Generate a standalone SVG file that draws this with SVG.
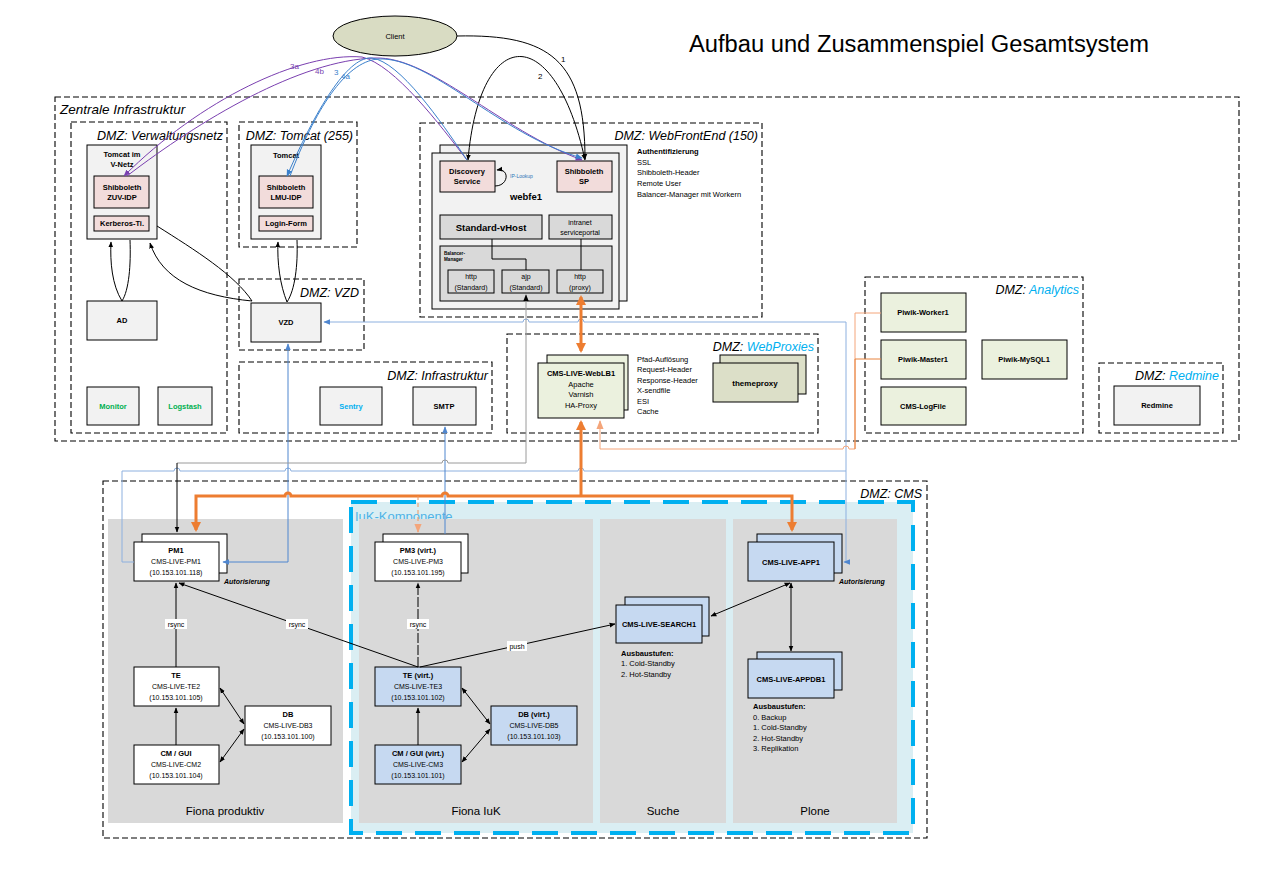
<svg xmlns="http://www.w3.org/2000/svg" width="1263" height="872" viewBox="0 0 1263 872">
<style>
text{font-family:"Liberation Sans",Arial,sans-serif;fill:#000}
.dmz{fill:none;stroke:#000;stroke-width:1.1;stroke-dasharray:6 3}
.dl{font-size:12.5px;font-style:italic;text-anchor:end}
.box{stroke:#000;stroke-width:1}
.g{fill:#f2f2f2}.pk{fill:#f2dcdb}.dg{fill:#d9d9d9}.gr{fill:#ebf1de}.ol{fill:#dcdfc8}.bl{fill:#c6d9f1}.wh{fill:#fff}
.t{font-size:7.5px;font-weight:bold;text-anchor:middle}
.r{font-size:7px;text-anchor:middle;fill:#000}
.s{font-size:7.5px}
.sb{font-size:7.5px;font-weight:bold}
.c{fill:none;stroke-width:1}
.k{stroke:#000}.bu{stroke:#4f86cf}.lb{stroke:#8db0df}.pu{stroke:#7a3fb0}.bc{stroke:#3a80cc}
.or{stroke:#ed7d31;stroke-width:3}
.lbl{font-size:7px;text-anchor:middle}
.pan{font-size:11.5px;text-anchor:middle}
</style>
<defs>
<marker id="ak" viewBox="0 0 10 10" refX="9" refY="5" markerWidth="6" markerHeight="6" markerUnits="userSpaceOnUse" orient="auto-start-reverse"><path d="M0,1L10,5L0,9z" fill="#000"/></marker>
<marker id="ab" viewBox="0 0 10 10" refX="9" refY="5" markerWidth="7" markerHeight="7" markerUnits="userSpaceOnUse" orient="auto-start-reverse"><path d="M0,1L10,5L0,9z" fill="#4f86cf"/></marker>
<marker id="abc" viewBox="0 0 10 10" refX="9" refY="5" markerWidth="7" markerHeight="7" markerUnits="userSpaceOnUse" orient="auto-start-reverse"><path d="M0,1L10,5L0,9z" fill="#3a80cc"/></marker>
<marker id="ap" viewBox="0 0 10 10" refX="9" refY="5" markerWidth="7" markerHeight="7" markerUnits="userSpaceOnUse" orient="auto-start-reverse"><path d="M0,1L10,5L0,9z" fill="#7a3fb0"/></marker>
<marker id="ao" viewBox="0 0 10 10" refX="8" refY="5" markerWidth="10" markerHeight="10" markerUnits="userSpaceOnUse" orient="auto-start-reverse"><path d="M0,0L10,5L0,10z" fill="#ed7d31"/></marker>
<marker id="as" viewBox="0 0 10 10" refX="9" refY="5" markerWidth="9" markerHeight="9" markerUnits="userSpaceOnUse" orient="auto-start-reverse"><path d="M0,1L10,5L0,9z" fill="#f4a57a"/></marker>
<marker id="ag" viewBox="0 0 10 10" refX="9" refY="5" markerWidth="7" markerHeight="7" markerUnits="userSpaceOnUse" orient="auto-start-reverse"><path d="M0,1L10,5L0,9z" fill="#000"/></marker>
</defs>
<rect width="1263" height="872" fill="#fff"/>
<text x="689" y="52" font-size="23" textLength="460" lengthAdjust="spacingAndGlyphs">Aufbau und Zusammenspiel Gesamtsystem</text>

<!-- zones -->
<g id="zentrale">
<rect class="dmz" x="55" y="97" width="1184" height="344"/>
<text x="60" y="114" font-size="13.5" font-style="italic">Zentrale Infrastruktur</text>
</g>
<g id="dmz-verwaltung"><rect class="dmz" x="71" y="122" width="156" height="311"/><text class="dl" x="223" y="140">DMZ: Verwaltungsnetz</text></g>
<g id="dmz-tomcat"><rect class="dmz" x="239" y="122" width="118" height="125"/><text class="dl" x="353" y="140">DMZ: Tomcat (255)</text></g>
<g id="dmz-webfrontend"><rect class="dmz" x="420" y="123" width="342" height="194"/><text class="dl" x="758" y="140">DMZ: WebFrontEnd (150)</text></g>
<g id="dmz-vzd"><rect class="dmz" x="239" y="279" width="125" height="71"/><text class="dl" x="359" y="297">DMZ: VZD</text></g>
<g id="dmz-infra"><rect class="dmz" x="239" y="362" width="253" height="71"/><text class="dl" x="488" y="380">DMZ: Infrastruktur</text></g>
<g id="dmz-webproxies"><rect class="dmz" x="507" y="334" width="311" height="99"/><text class="dl" x="814" y="351">DMZ: <tspan fill="#00b0f0">WebProxies</tspan></text></g>
<g id="dmz-analytics"><rect class="dmz" x="865" y="277" width="218" height="156"/><text class="dl" x="1079" y="294">DMZ: <tspan fill="#00b0f0">Analytics</tspan></text></g>
<g id="dmz-redmine"><rect class="dmz" x="1099" y="363" width="124" height="70"/><text class="dl" x="1219" y="380">DMZ: <tspan fill="#00b0f0">Redmine</tspan></text></g>
<g id="dmz-cms"><rect class="dmz" x="103" y="481" width="824" height="357"/><text class="dl" x="922" y="498">DMZ: CMS</text></g>

<!-- CMS panels -->
<g id="panel-fiona-produktiv"><rect x="108" y="519" width="235" height="304" fill="#d9d9d9"/><text class="pan" x="225" y="815">Fiona produktiv</text></g>
<g id="iuk">
<rect x="351" y="502" width="562" height="331" fill="#daeef3" stroke="#00b0f0" stroke-width="4" stroke-dasharray="26 13"/>
<text x="355" y="521" font-size="13" style="fill:#4fb3e6">IuK-Komponente</text>
</g>
<g id="panel-fiona-iuk"><rect x="359" y="519" width="234" height="304" fill="#d9d9d9"/><text class="pan" x="476" y="815">Fiona IuK</text></g>
<g id="panel-suche"><rect x="600" y="519" width="126" height="304" fill="#d9d9d9"/><text class="pan" x="663" y="815">Suche</text></g>
<g id="panel-plone"><rect x="733" y="519" width="164" height="304" fill="#d9d9d9"/><text class="pan" x="815" y="815">Plone</text></g>

<!-- nodes -->
<g id="client"><ellipse cx="395" cy="36" rx="62" ry="20" fill="#d9dcc3" stroke="#000"/><text x="395" y="39" font-size="7.5" text-anchor="middle">Client</text></g>

<g id="tomcat-vnetz">
<rect class="box g" x="87" y="145" width="70" height="94"/>
<text class="t" x="122" y="157">Tomcat im</text><text class="t" x="122" y="167">V-Netz</text>
<rect class="box pk" x="94" y="176" width="55" height="32"/>
<text class="t" x="122" y="190">Shibboleth</text><text class="t" x="122" y="200">ZUV-IDP</text>
<rect class="box pk" x="94" y="216" width="55" height="15"/>
<text class="t" x="122" y="226">Kerberos-Ti.</text>
</g>
<g id="tomcat-255">
<rect class="box g" x="251" y="145" width="70" height="94"/>
<text class="t" x="286" y="158">Tomcat</text>
<rect class="box pk" x="259" y="176" width="54" height="32"/>
<text class="t" x="286" y="190">Shibboleth</text><text class="t" x="286" y="200">LMU-IDP</text>
<rect class="box pk" x="259" y="216" width="54" height="15"/>
<text class="t" x="286" y="226">Login-Form</text>
</g>
<g id="ad"><rect class="box g" x="87" y="301" width="70" height="39"/><text class="t" x="122" y="323">AD</text></g>
<g id="vzd"><rect class="box g" x="251" y="303" width="70" height="39"/><text class="t" x="286" y="325">VZD</text></g>
<g id="monitor"><rect class="box g" x="87" y="387" width="52" height="38"/><text class="t" x="113" y="409" style="fill:#00b050">Monitor</text></g>
<g id="logstash"><rect class="box g" x="158" y="387" width="54" height="38"/><text class="t" x="185" y="409" style="fill:#00b050">Logstash</text></g>
<g id="sentry"><rect class="box g" x="320" y="387" width="62" height="38"/><text class="t" x="351" y="409" style="fill:#00b0f0">Sentry</text></g>
<g id="smtp"><rect class="box g" x="413" y="387" width="63" height="38"/><text class="t" x="444" y="409">SMTP</text></g>

<g id="webfe1">
<rect class="box g" x="440" y="145" width="187" height="156"/>
<rect class="box g" x="432" y="153" width="187" height="156"/>
<rect class="box pk" x="440" y="161" width="55" height="31"/>
<text class="t" x="467" y="174">Discovery</text><text class="t" x="467" y="184">Service</text>
<rect class="box pk" x="557" y="161" width="55" height="31"/>
<text class="t" x="584" y="174">Shibboleth</text><text class="t" x="584" y="184">SP</text>
<text x="510" y="178" font-size="5" style="fill:#2e75b6">IP-Lookup</text>
<text x="526" y="200" font-size="9.5" font-weight="bold" text-anchor="middle">webfe1</text>
<rect class="box dg" x="440" y="215" width="102" height="24"/>
<text x="491" y="231" font-size="9.5" font-weight="bold" text-anchor="middle">Standard-vHost</text>
<rect class="box dg" x="549" y="215" width="63" height="24"/>
<text class="r" x="580" y="225">intranet</text><text class="r" x="580" y="235">serviceportal</text>
<rect class="box dg" x="440" y="246" width="172" height="55"/>
<text x="444" y="255" font-size="4.6" font-weight="bold">Balancer-</text><text x="444" y="261" font-size="4.6" font-weight="bold">Manager</text>
<rect class="box dg" x="448" y="270" width="46" height="23"/>
<text class="r" x="471" y="279">http</text><text class="r" x="471" y="290">(Standard)</text>
<rect class="box dg" x="502" y="270" width="47" height="23"/>
<text class="r" x="526" y="279">ajp</text><text class="r" x="526" y="290">(Standard)</text>
<rect class="box dg" x="557" y="270" width="46" height="23"/>
<text class="r" x="580" y="279">http</text><text class="r" x="580" y="290">(proxy)</text>
<path d="M492,239V259H526V270M581,239V270" fill="none" stroke="#000"/>
</g>
<g id="webfe-notes">
<text class="sb" x="637" y="154">Authentifizierung</text>
<text class="s" x="637" y="165">SSL</text>
<text class="s" x="637" y="175">Shibboleth-Header</text>
<text class="s" x="637" y="186">Remote User</text>
<text class="s" x="637" y="197">Balancer-Manager mit Workern</text>
</g>

<g id="weblb1">
<rect class="box gr" x="547" y="355" width="81" height="55"/>
<rect class="box gr" x="538" y="363" width="86" height="55"/>
<text class="t" x="581" y="376">CMS-LIVE-WebLB1</text>
<text class="r" x="581" y="387" style="font-size:7.5px">Apache</text>
<text class="r" x="581" y="397" style="font-size:7.5px">Varnish</text>
<text class="r" x="581" y="408" style="font-size:7.5px">HA-Proxy</text>
</g>
<g id="weblb-notes">
<text class="s" x="637" y="362">Pfad-Auflösung</text>
<text class="s" x="637" y="372">Request-Header</text>
<text class="s" x="637" y="383">Response-Header</text>
<text class="s" x="637" y="393">X-sendfile</text>
<text class="s" x="637" y="404">ESI</text>
<text class="s" x="637" y="414">Cache</text>
</g>
<g id="themeproxy">
<rect class="box ol" x="720" y="355" width="86" height="39"/>
<rect class="box ol" x="713" y="363" width="85" height="39"/>
<text class="t" x="755" y="386" style="font-size:8px">themeproxy</text>
</g>
<g id="piwik-worker1"><rect class="box gr" x="881" y="293" width="85" height="39"/><text class="t" x="923" y="315">Piwik-Worker1</text></g>
<g id="piwik-master1"><rect class="box gr" x="881" y="340" width="85" height="39"/><text class="t" x="923" y="362">Piwik-Master1</text></g>
<g id="cms-logfile"><rect class="box gr" x="881" y="387" width="85" height="38"/><text class="t" x="923" y="409">CMS-LogFile</text></g>
<g id="piwik-mysql1"><rect class="box gr" x="982" y="340" width="85" height="39"/><text class="t" x="1024" y="362">Piwik-MySQL1</text></g>
<g id="redmine"><rect class="box g" x="1114" y="386" width="86" height="39"/><text class="t" x="1157" y="408">Redmine</text></g>

<g id="pm1">
<rect class="box wh" x="142" y="534" width="85" height="39"/>
<rect class="box wh" x="134" y="542" width="85" height="39"/>
<text class="t" x="176" y="553">PM1</text><text class="r" x="176" y="564">CMS-LIVE-PM1</text><text class="r" x="176" y="575">(10.153.101.118)</text>
<text x="224" y="584" font-size="7" font-weight="bold" font-style="italic">Autorisierung</text>
</g>
<g id="te2"><rect class="box wh" x="134" y="667" width="85" height="39"/>
<text class="t" x="176" y="678">TE</text><text class="r" x="176" y="689">CMS-LIVE-TE2</text><text class="r" x="176" y="700">(10.153.101.105)</text></g>
<g id="db3"><rect class="box wh" x="245" y="706" width="86" height="39"/>
<text class="t" x="288" y="717">DB</text><text class="r" x="288" y="728">CMS-LIVE-DB3</text><text class="r" x="288" y="739">(10.153.101.100)</text></g>
<g id="cm2"><rect class="box wh" x="134" y="745" width="85" height="39"/>
<text class="t" x="176" y="756">CM / GUI</text><text class="r" x="176" y="767">CMS-LIVE-CM2</text><text class="r" x="176" y="778">(10.153.101.104)</text></g>

<g id="pm3">
<rect class="box wh" x="383" y="534" width="85" height="39"/>
<rect class="box wh" x="375" y="542" width="86" height="39"/>
<text class="t" x="418" y="553">PM3 (virt.)</text><text class="r" x="418" y="564">CMS-LIVE-PM3</text><text class="r" x="418" y="575">(10.153.101.195)</text>
</g>
<g id="te3"><rect class="box bl" x="375" y="667" width="86" height="39"/>
<text class="t" x="418" y="678">TE (virt.)</text><text class="r" x="418" y="689">CMS-LIVE-TE3</text><text class="r" x="418" y="700">(10.153.101.102)</text></g>
<g id="db5"><rect class="box bl" x="491" y="706" width="86" height="39"/>
<text class="t" x="534" y="717">DB (virt.)</text><text class="r" x="534" y="728">CMS-LIVE-DB5</text><text class="r" x="534" y="739">(10.153.101.103)</text></g>
<g id="cm3"><rect class="box bl" x="375" y="745" width="86" height="39"/>
<text class="t" x="418" y="756">CM / GUI (virt.)</text><text class="r" x="418" y="767">CMS-LIVE-CM3</text><text class="r" x="418" y="778">(10.153.101.101)</text></g>

<g id="search1">
<rect class="box bl" x="625" y="597" width="84" height="39"/>
<rect class="box bl" x="616" y="605" width="86" height="38"/>
<text class="t" x="659" y="627">CMS-LIVE-SEARCH1</text>
<text class="sb" x="621" y="656">Ausbaustufen:</text>
<text class="s" x="621" y="666">1. Cold-Standby</text>
<text class="s" x="621" y="677">2. Hot-Standby</text>
</g>
<g id="app1">
<rect class="box bl" x="757" y="534" width="85" height="39"/>
<rect class="box bl" x="748" y="542" width="86" height="39"/>
<text class="t" x="791" y="565">CMS-LIVE-APP1</text>
<text x="839" y="584" font-size="7" font-weight="bold" font-style="italic">Autorisierung</text>
</g>
<g id="appdb1">
<rect class="box bl" x="757" y="652" width="85" height="38"/>
<rect class="box bl" x="748" y="659" width="86" height="39"/>
<text class="t" x="791" y="682">CMS-LIVE-APPDB1</text>
<text class="sb" x="753" y="709">Ausbaustufen:</text>
<text class="s" x="753" y="720">0. Backup</text>
<text class="s" x="753" y="730">1. Cold-Standby</text>
<text class="s" x="753" y="741">2. Hot-Standby</text>
<text class="s" x="753" y="751">3. Replikation</text>
</g>

<!-- connectors -->
<g id="connectors">
<path class="c k" d="M457,36C550,34 585,60 585,159" marker-end="url(#ak)"/>
<path class="c k" d="M468,160C480,22 555,22 585,160" marker-start="url(#ak)" marker-end="url(#ak)"/>
<path class="c k" d="M495,186C509,186 510,168 497,170" marker-end="url(#ak)"/>
<path class="c pu" d="M467,160C440,125 395,65 362,57C300,52 200,100 124,176" marker-end="url(#ap)"/>
<path class="c pu" d="M127,176C200,120 300,60 375,58C430,56 500,130 582,160" marker-end="url(#ap)"/>
<path class="c bc" d="M467,160C440,120 400,62 372,58C350,56 320,100 287,176" marker-end="url(#abc)"/>
<path class="c bc" d="M290,176C315,110 345,62 378,59C430,56 500,135 582,158" marker-end="url(#abc)"/>
<text x="561" y="62" font-size="8">1</text>
<text x="538" y="79" font-size="8">2</text>
<text x="290" y="69" font-size="8" style="fill:#7a3fb0">3a</text>
<text x="315" y="74" font-size="8" style="fill:#7a3fb0">4b</text>
<text x="334" y="75" font-size="8" style="fill:#3a80cc">3</text>
<text x="341" y="79" font-size="8" style="fill:#3a80cc">4a</text>

<path class="c k" d="M122,301C112,285 110,262 111,242" marker-end="url(#ak)"/>
<path class="c k" d="M130,240C131,265 129,290 122,301"/>
<path class="c k" d="M287,302C280,285 277,262 278,242" marker-end="url(#ak)"/>
<path class="c k" d="M297,240C298,265 295,290 287,302"/>
<path class="c k" d="M157,226C195,250 235,275 252,301"/>
<path class="c k" d="M252,301C200,296 162,280 150,243" marker-end="url(#ak)"/>

<path class="c lb" d="M324,322H523A3,3 0 0 1 529,322H578A3,3 0 0 1 584,322H846V562H844" stroke-width="1.2" marker-start="url(#ab)" marker-end="url(#ab)"/>
<path class="c lb" d="M846,471H584A3,3 0 0 0 578,471H291A3,3 0 0 0 285,471H180A3,3 0 0 0 174,471H122V562H134" stroke-width="1.2"/>
<path class="c bu" d="M445,427V534" marker-start="url(#ab)"/>
<path class="c bu" d="M288,344V562H223" marker-start="url(#ab)" marker-end="url(#ab)"/>

<path class="c" d="M526,295V463H448A3,3 0 0 0 442,463H177" stroke="#9a9a9a" stroke-width="1.5" marker-start="url(#ag)"/>
<path class="c k" d="M177,463V532" marker-end="url(#ak)"/>

<path class="c or" d="M581,297V351" marker-start="url(#ao)" marker-end="url(#ao)"/>
<path class="c or" d="M581,422V496" marker-start="url(#ao)"/>
<path class="c or" d="M196,530V496H285A3,3 0 0 1 291,496H442A3,3 0 0 1 448,496H792V530" marker-start="url(#ao)" marker-end="url(#ao)"/>
<path class="c" d="M418,496V532" stroke="#f0945a" stroke-width="1.5" stroke-dasharray="4 3" marker-end="url(#as)"/>
<path class="c" d="M600,421V449H843A3,3 0 0 1 849,449H855V313H881" stroke="#f4a57a" stroke-width="1.5" marker-start="url(#as)"/>
<path class="c" d="M855,359H881M855,359V449" stroke="#e8843f" stroke-width="1.2"/>

<path class="c k" d="M176,667V583" marker-end="url(#ak)"/>
<path class="c k" d="M176,745V708" marker-end="url(#ak)"/>
<path class="c k" d="M220,688L244,724" marker-start="url(#ak)" marker-end="url(#ak)"/>
<path class="c k" d="M220,762L244,729" marker-start="url(#ak)" marker-end="url(#ak)"/>
<path class="c k" d="M462,688L490,724" marker-start="url(#ak)" marker-end="url(#ak)"/>
<path class="c k" d="M462,762L490,729" marker-start="url(#ak)" marker-end="url(#ak)"/>
<path class="c k" d="M418,745V708" marker-end="url(#ak)"/>
<path class="c k" d="M418,667V583" stroke-dasharray="10 2" marker-end="url(#ak)"/>
<path class="c k" d="M418,667L179,583" marker-end="url(#ak)"/>
<path class="c k" d="M420,667L615,624" marker-end="url(#ak)"/>
<path class="c k" d="M790,583L711,616" marker-start="url(#ak)" marker-end="url(#ak)"/>
<path class="c k" d="M791,583V651" marker-start="url(#ak)" marker-end="url(#ak)"/>
<rect x="165" y="619" width="22" height="10" fill="#fff"/><text class="lbl" x="176" y="627">rsync</text>
<rect x="286" y="619" width="22" height="10" fill="#fff"/><text class="lbl" x="297" y="627">rsync</text>
<rect x="407" y="619" width="22" height="10" fill="#fff"/><text class="lbl" x="418" y="627">rsync</text>
<rect x="507" y="641" width="20" height="10" fill="#fff"/><text class="lbl" x="517" y="649">push</text>
</g>
</svg>
